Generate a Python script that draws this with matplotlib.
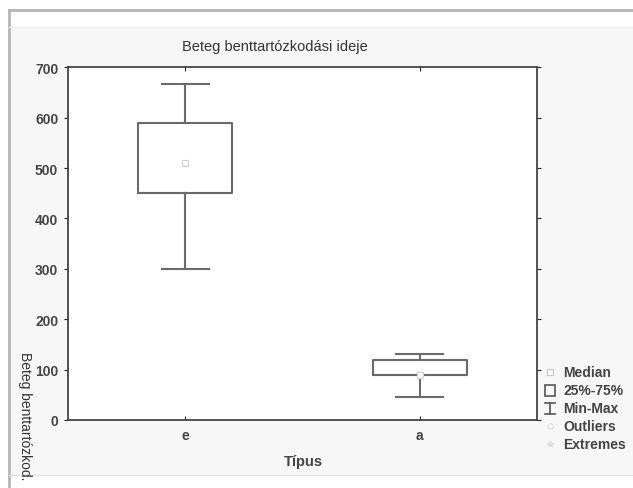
import matplotlib
matplotlib.use("Agg")
import matplotlib.pyplot as plt
from matplotlib.patches import Rectangle

plt.rcParams['font.family'] = ['Liberation Sans', 'DejaVu Sans']

# ---- data ----
categories = ["e", "a"]
mins = [300, 45]
q1s = [450, 90]
medians = [510, 90]
q3s = [589, 120]
maxs = [666, 130]
yticks = [0, 100, 200, 300, 400, 500, 600, 700]
title = "Beteg benttartózkodási ideje"
xlabel = "Típus"
ylabel = "Beteg benttartózkod."
legend_labels = ["Median", "25%-75%", "Min-Max", "Outliers", "Extremes"]

W, H = 633, 489
fig = plt.figure(figsize=(W / 100, H / 100), dpi=100, facecolor="white")

# background overlay in pixel coordinates
bg = fig.add_axes([0, 0, 1, 1], zorder=-10)
bg.set_xlim(0, W)
bg.set_ylim(H, 0)
bg.axis("off")
bg.add_patch(Rectangle((9, 11), W - 9, 465, facecolor="#f7f7f7", edgecolor="none"))
bg.add_patch(Rectangle((9, 11), W - 9, 17, facecolor="#ffffff", edgecolor="none"))
bg.plot([9, W], [11, 11], color="#b5b5b5", lw=2.0)
bg.plot([9, 9], [11, H], color="#b5b5b5", lw=2.0)
bg.plot([9, W], [476, 476], color="#e2e2e2", lw=1.0)
bg.plot([9, W], [28, 28], color="#eeeeee", lw=1.0)

# main axes
ax = fig.add_axes([68 / W, 1 - 421 / H, (537 - 68) / W, (421 - 68.3) / H])
ax.set_facecolor("white")
stats = []
for i, c in enumerate(categories):
    stats.append(dict(label=c, whislo=mins[i], q1=q1s[i], med=medians[i],
                      q3=q3s[i], whishi=maxs[i], fliers=[]))
pos = list(range(1, len(categories) + 1))
line_c = "#6a6a6a"
ax.bxp(stats, positions=pos, widths=0.4, capwidths=0.2, showfliers=False,
       boxprops=dict(color=line_c, lw=1.5),
       whiskerprops=dict(color=line_c, lw=1.5),
       capprops=dict(color=line_c, lw=1.5),
       medianprops=dict(visible=False))
ax.plot(pos, medians, linestyle="none", marker="s", markersize=4,
        markerfacecolor="white", markeredgecolor="#d0d0d0", markeredgewidth=0.8,
        zorder=5)
ax.set_xlim(0.5, len(categories) + 0.5)
ax.set_ylim(0, 700)
ax.set_yticks(yticks)
ax.set_xticks(pos)
ax.set_xticklabels(categories)
for s in ax.spines.values():
    s.set_color("#444444")
    s.set_linewidth(1.3)
ax.tick_params(axis="x", direction="in", length=3, top=True, colors="#222222",
               labelcolor="#444444", labelsize=10, pad=6)
ax.tick_params(axis="y", direction="out", length=3, right=True, colors="#222222",
               labelcolor="#444444", labelsize=10, pad=4)
for lab in ax.get_xticklabels() + ax.get_yticklabels():
    lab.set_fontweight("bold")

# texts
fig.text(275 / W, 1 - 47 / H, title, ha="center", va="center", fontsize=10.5,
         color="#333333")
fig.text(303 / W, 1 - 462 / H, xlabel, ha="center", va="center", fontsize=10.5,
         color="#444444", fontweight="bold")
fig.text(25 / W, 1 - 352 / H, ylabel, ha="center", va="top", rotation=270,
         fontsize=10, color="#333333")

# legend (manual)
rows = [373, 391, 409, 427, 445]
mx, tx = 550, 563
bg.plot([mx], [rows[0]], marker="s", markersize=4, markerfacecolor="white",
        markeredgecolor="#c8c8c8", markeredgewidth=0.8, zorder=3)
bg.add_patch(Rectangle((mx - 5, rows[1] - 5.5), 10, 11, facecolor="none",
                       edgecolor="#555555", lw=1.2, zorder=3))
bg.plot([mx, mx], [rows[2] - 5.5, rows[2] + 5.5], color="#555555", lw=1.2)
bg.plot([mx - 5, mx + 5], [rows[2] - 5.5, rows[2] - 5.5], color="#555555", lw=1.2)
bg.plot([mx - 5, mx + 5], [rows[2] + 5.5, rows[2] + 5.5], color="#555555", lw=1.2)
bg.plot([mx], [rows[3]], marker="o", markersize=4, markerfacecolor="none",
        markeredgecolor="#dddddd", markeredgewidth=0.8)
bg.plot([mx], [rows[4]], marker="*", markersize=4, color="#dddddd")
for r, lab in zip(rows, legend_labels):
    bg.text(tx, r, lab, ha="left", va="center", fontsize=10, color="#444444",
            fontweight="bold")

fig.savefig("out.png", dpi=100, facecolor="white")
